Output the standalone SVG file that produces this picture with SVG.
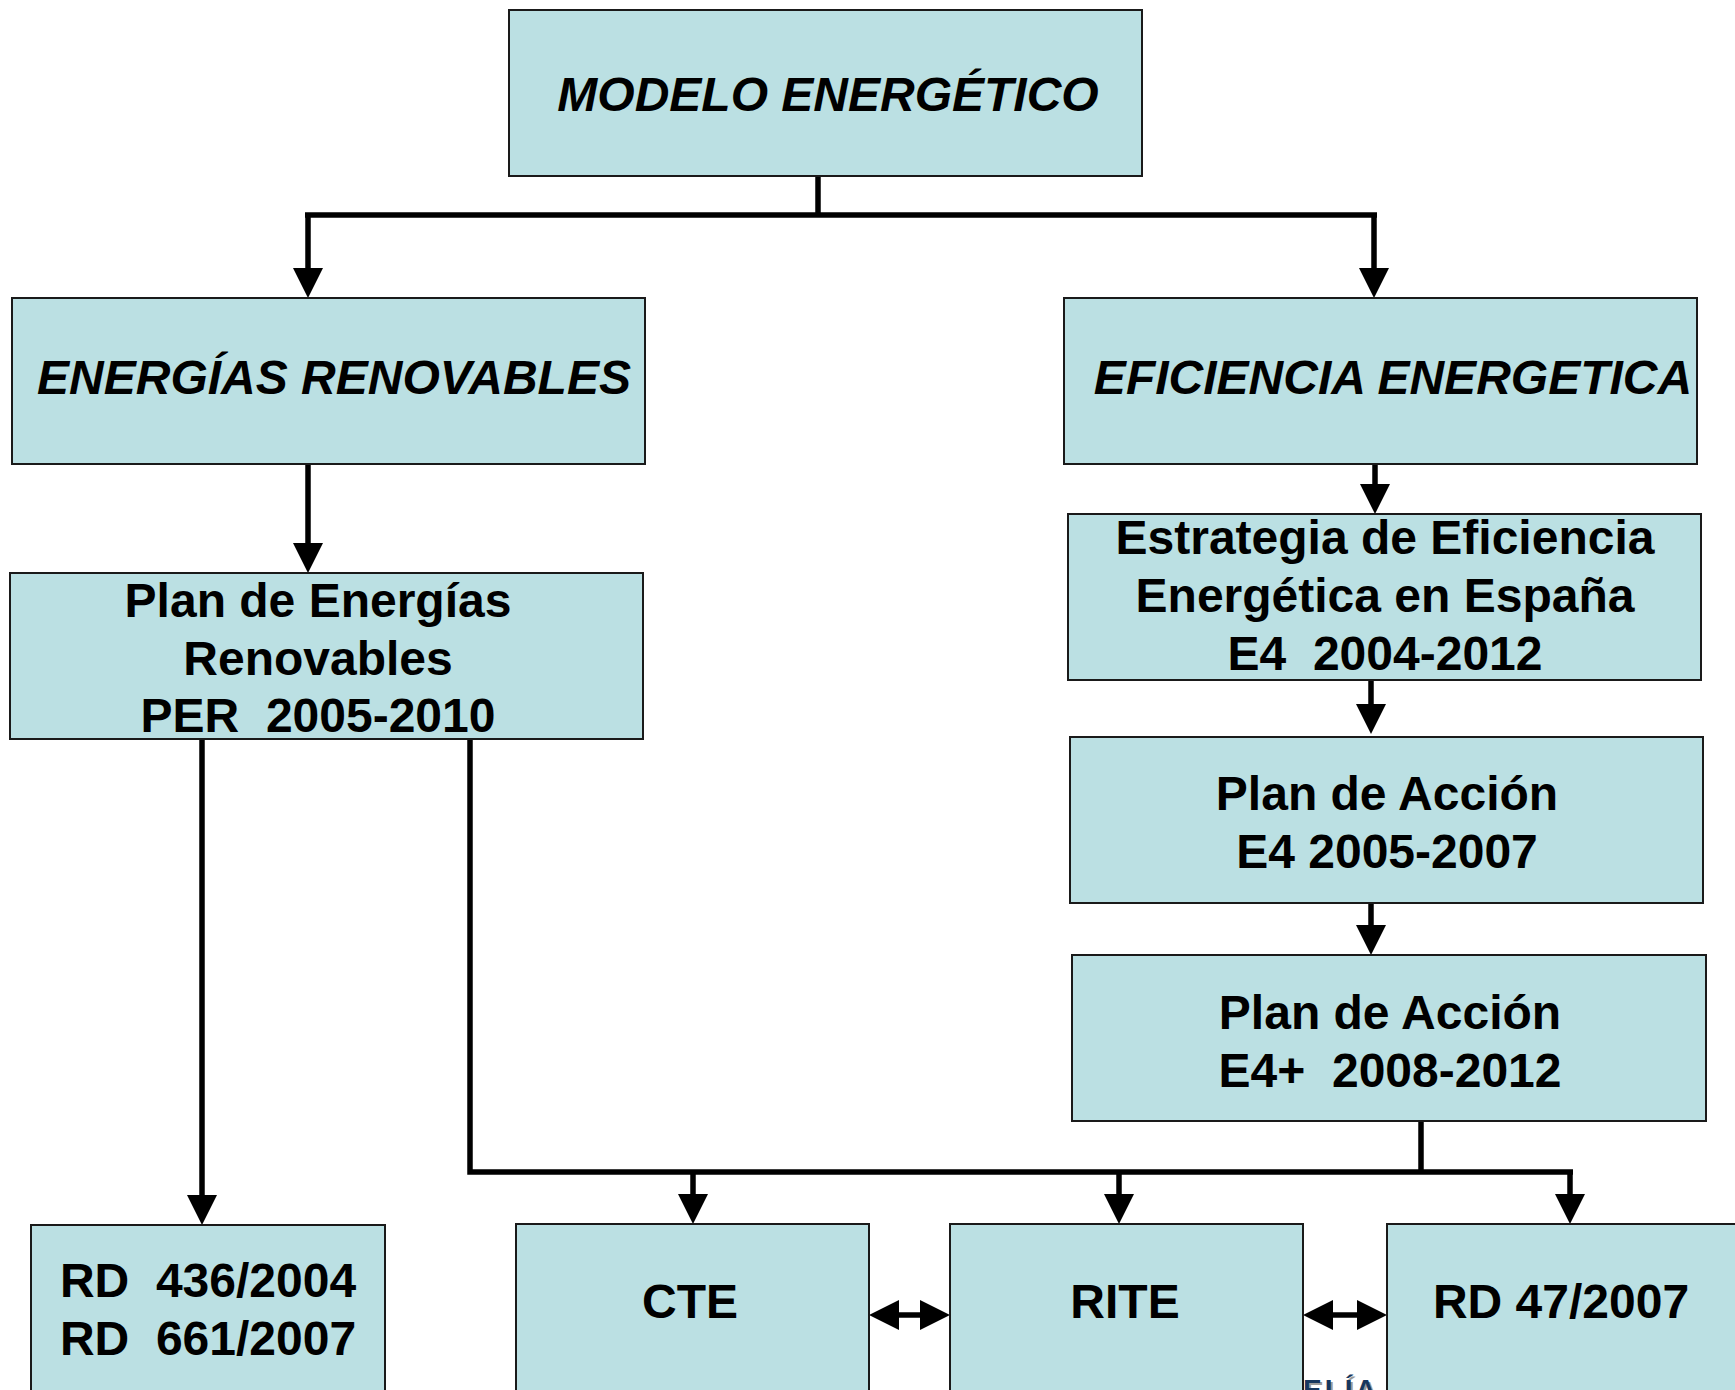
<svg xmlns="http://www.w3.org/2000/svg" width="1735" height="1390" viewBox="0 0 1735 1390">
<style>
.box{fill:#BBE0E3;stroke:#1a1a1a;stroke-width:2}
.t{font-family:"Liberation Sans",Arial,sans-serif;font-weight:bold;font-size:48px;fill:#000;text-anchor:middle;white-space:pre}
.it{font-style:italic}
.c{fill:none;stroke:#000;stroke-width:5.5}
</style>
<defs>
<marker id="ah" markerUnits="userSpaceOnUse" markerWidth="32" markerHeight="32" refX="0" refY="15" orient="auto-start-reverse" overflow="visible">
<path d="M0,0 L30,15 L0,30 Z" fill="#000"/>
</marker>
</defs>
<rect width="1735" height="1390" fill="#fff"/>

<g id="footer-text">
<text x="1305" y="1401" font-family="Liberation Sans,Arial,sans-serif" font-weight="bold" font-size="28" letter-spacing="3" fill="#9a9a9a">ELÍA</text>
<text x="1303" y="1399" font-family="Liberation Sans,Arial,sans-serif" font-weight="bold" font-size="28" letter-spacing="3" fill="#17375E">ELÍA</text>
</g>

<g id="connectors">
<path class="c" d="M818,176 V215"/>
<path class="c" d="M305,215 H1377"/>
<path class="c" d="M308,215 V268" marker-end="url(#ah)"/>
<path class="c" d="M1374,215 V268" marker-end="url(#ah)"/>
<path class="c" d="M308,464 V543" marker-end="url(#ah)"/>
<path class="c" d="M1375,464 V484" marker-end="url(#ah)"/>
<path class="c" d="M1371,680 V704" marker-end="url(#ah)"/>
<path class="c" d="M1371,903 V925" marker-end="url(#ah)"/>
<path class="c" d="M1421,1121 V1172"/>
<path class="c" d="M202,739 V1195" marker-end="url(#ah)"/>
<path class="c" d="M470,739 V1172 H1573"/>
<path class="c" d="M693,1172 V1194" marker-end="url(#ah)"/>
<path class="c" d="M1119,1172 V1194" marker-end="url(#ah)"/>
<path class="c" d="M1570,1172 V1194" marker-end="url(#ah)"/>
<path class="c" d="M899,1315 H920" marker-start="url(#ah)" marker-end="url(#ah)"/>
<path class="c" d="M1333,1315 H1357" marker-start="url(#ah)" marker-end="url(#ah)"/>
</g>

<g id="n-modelo">
<rect class="box" x="509" y="10" width="633" height="166"/>
<text class="t it" x="828" y="111">MODELO ENERGÉTICO</text>
</g>
<g id="n-renovables">
<rect class="box" x="12" y="298" width="633" height="166"/>
<text class="t it" x="334" y="394">ENERGÍAS RENOVABLES</text>
</g>
<g id="n-eficiencia">
<rect class="box" x="1064" y="298" width="633" height="166"/>
<text class="t it" x="1393" y="394">EFICIENCIA ENERGETICA</text>
</g>
<g id="n-per">
<rect class="box" x="10" y="573" width="633" height="166"/>
<text class="t" x="318" y="617">Plan de Energías</text>
<text class="t" x="318" y="675">Renovables</text>
<text class="t" x="318" y="732">PER  2005-2010</text>
</g>
<g id="n-estrategia">
<rect class="box" x="1068" y="514" width="633" height="166"/>
<text class="t" x="1385" y="554">Estrategia de Eficiencia</text>
<text class="t" x="1385" y="612">Energética en España</text>
<text class="t" x="1385" y="670">E4  2004-2012</text>
</g>
<g id="n-accion-e4">
<rect class="box" x="1070" y="737" width="633" height="166"/>
<text class="t" x="1387" y="810">Plan de Acción</text>
<text class="t" x="1387" y="868">E4 2005-2007</text>
</g>
<g id="n-accion-e4plus">
<rect class="box" x="1072" y="955" width="634" height="166"/>
<text class="t" x="1390" y="1029">Plan de Acción</text>
<text class="t" x="1390" y="1087">E4+  2008-2012</text>
</g>
<g id="n-rd436">
<rect class="box" x="31" y="1225" width="354" height="180"/>
<text class="t" x="208" y="1297">RD  436/2004</text>
<text class="t" x="208" y="1355">RD  661/2007</text>
</g>
<g id="n-cte">
<rect class="box" x="516" y="1224" width="353" height="180"/>
<text class="t" x="690" y="1318">CTE</text>
</g>
<g id="n-rite">
<rect class="box" x="950" y="1224" width="353" height="180"/>
<text class="t" x="1125" y="1318">RITE</text>
</g>
<g id="n-rd47">
<rect class="box" x="1387" y="1224" width="360" height="180"/>
<text class="t" x="1561" y="1318">RD 47/2007</text>
</g>
</svg>
